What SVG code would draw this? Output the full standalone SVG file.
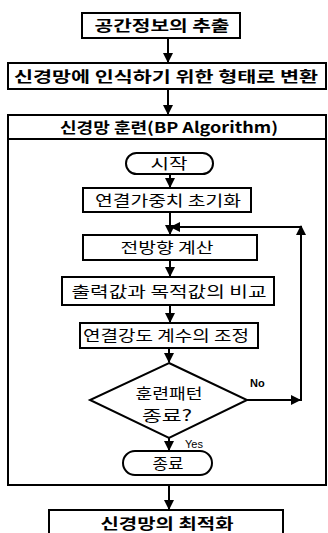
<svg xmlns="http://www.w3.org/2000/svg" width="328" height="533" viewBox="0 0 328 533">
<style>
.b{fill:#fff;stroke:#000;stroke-width:2}
.t{font-family:"Noto Sans CJK KR","Noto Sans",sans-serif;font-size:15px;fill:#000;text-anchor:middle}
.h{font-weight:bold}
.s{font-family:"Liberation Sans",Arial,sans-serif;font-size:11px;font-weight:bold;fill:#000}
.c line,.c path{stroke:#000;stroke-width:2;fill:none}
</style>
<defs>
<marker id="a" viewBox="0 0 10 10" refX="9" refY="5" markerWidth="5" markerHeight="5" orient="auto" markerUnits="strokeWidth">
<path d="M0,0 L10,5 L0,10 z" fill="#000"/>
</marker>
</defs>
<rect width="328" height="533" fill="#fff"/>
<g id="container">
<rect class="b" x="8" y="115" width="318" height="370"/>
<line x1="8" y1="139" x2="326" y2="139" stroke="#000" stroke-width="2"/>
<text class="t h" x="169" y="133" textLength="218" lengthAdjust="spacingAndGlyphs">신경망 훈련(BP Algorithm)</text>
</g>
<g id="n1">
<rect class="b" x="82" y="13" width="158" height="25"/>
<text class="t h" x="162" y="31" textLength="135" lengthAdjust="spacingAndGlyphs">공간정보의 추출</text>
</g>
<g id="n2">
<rect class="b" x="8" y="63" width="318" height="26"/>
<text class="t h" x="166" y="82" textLength="304" lengthAdjust="spacingAndGlyphs">신경망에 인식하기 위한 형태로 변환</text>
</g>
<g id="start">
<rect class="b" x="126" y="153" width="87" height="21" rx="10.5"/>
<text class="t" x="169" y="169" textLength="37" lengthAdjust="spacingAndGlyphs">시작</text>
</g>
<g id="init">
<rect class="b" x="83" y="188" width="168" height="24"/>
<text class="t" x="168" y="206" textLength="146" lengthAdjust="spacingAndGlyphs">연결가중치 초기화</text>
</g>
<g id="forward">
<rect class="b" x="83" y="235" width="174" height="25"/>
<text class="t" x="167" y="253" textLength="93" lengthAdjust="spacingAndGlyphs">전방향 계산</text>
</g>
<g id="compare">
<rect class="b" x="62" y="277" width="212" height="28"/>
<text class="t" x="169" y="297" textLength="195" lengthAdjust="spacingAndGlyphs">출력값과 목적값의 비교</text>
</g>
<g id="adjust">
<rect class="b" x="80" y="323" width="178" height="25"/>
<text class="t" x="166" y="341" textLength="166" lengthAdjust="spacingAndGlyphs">연결강도 계수의 조정</text>
</g>
<g id="decision">
<polygon class="b" points="169,363 247,400 169,438 90,400"/>
<text class="t" x="169" y="399" textLength="67" lengthAdjust="spacingAndGlyphs">훈련패턴</text>
<text class="t" x="167" y="421" textLength="50" lengthAdjust="spacingAndGlyphs">종료?</text>
</g>
<g id="end">
<rect class="b" x="123" y="451" width="89" height="24" rx="12"/>
<text class="t" x="168" y="469" textLength="31" lengthAdjust="spacingAndGlyphs">종료</text>
</g>
<g id="n3">
<rect class="b" x="49" y="510" width="234" height="30"/>
<text class="t h" x="167" y="529" textLength="133" lengthAdjust="spacingAndGlyphs">신경망의 최적화</text>
</g>
<g id="connectors" class="c">
<line x1="168" y1="38" x2="168" y2="62" marker-end="url(#a)"/>
<line x1="168" y1="89" x2="168" y2="114" marker-end="url(#a)"/>
<line x1="170" y1="174" x2="170" y2="187" marker-end="url(#a)"/>
<line x1="170" y1="212" x2="170" y2="234" marker-end="url(#a)"/>
<line x1="170" y1="260" x2="170" y2="276" marker-end="url(#a)"/>
<line x1="170" y1="305" x2="170" y2="322" marker-end="url(#a)"/>
<line x1="169" y1="348" x2="169" y2="362" marker-end="url(#a)"/>
<line x1="169" y1="438" x2="169" y2="450" marker-end="url(#a)"/>
<line x1="247" y1="400" x2="300" y2="400" marker-end="url(#a)"/>
<line x1="301" y1="401" x2="301" y2="226" marker-end="url(#a)"/>
<path d="M302,227 H171" marker-end="url(#a)"/>
<line x1="169" y1="485" x2="169" y2="509" marker-end="url(#a)"/>
</g>
<text class="s" x="250" y="387">No</text>
<text class="s" x="185" y="448" style="font-weight:normal">Yes</text>
</svg>
